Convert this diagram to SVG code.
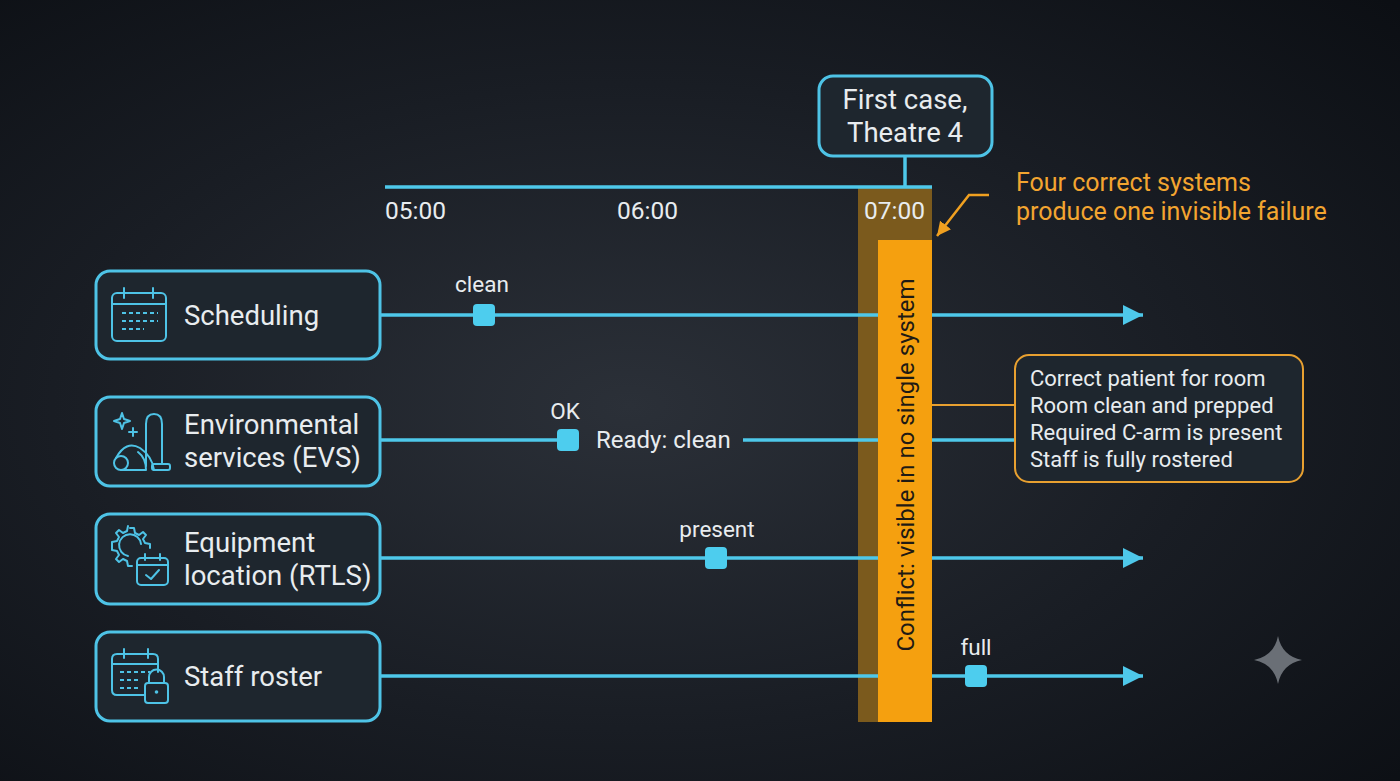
<svg xmlns="http://www.w3.org/2000/svg" width="1400" height="781" viewBox="0 0 1400 781">
<defs>
<radialGradient id="bg" cx="0.45" cy="0.52" r="0.75">
<stop offset="0" stop-color="#2b3038"/>
<stop offset="0.55" stop-color="#191d24"/>
<stop offset="1" stop-color="#0c0f14"/>
</radialGradient>
<marker id="arr" markerUnits="userSpaceOnUse" markerWidth="22" markerHeight="24" refX="20" refY="12" orient="auto">
<path d="M0,2 L20,12 L0,22 Z" fill="#4ec8ea"/>
</marker>
<marker id="oarr" markerUnits="userSpaceOnUse" markerWidth="16" markerHeight="16" refX="14" refY="8" orient="auto">
<path d="M0,1 L14,8 L0,15 Z" fill="#f0a020"/>
</marker>
<style>
.node{fill:#1e262e;stroke:#4ec3e6;stroke-width:3}
.lbl{font-family:Roboto,"Liberation Sans",sans-serif;fill:#e8ecef}
.nt{font-size:27.5px}
.tm{font-size:24.5px}
.ev{font-size:22.5px}
.cl{font-size:22px}
.ln{stroke:#4ec8ea;stroke-width:3.5;fill:none}
.mk{fill:#4dcdee}
.ic{fill:none;stroke:#4ec3e6;stroke-width:2;stroke-linecap:round;stroke-linejoin:round}
.icd{fill:none;stroke:#4ec3e6;stroke-width:2;stroke-dasharray:4 3}
.or{font-family:Roboto,"Liberation Sans",sans-serif;fill:#f3a530;font-size:25px}
</style>
</defs>
<rect width="1400" height="781" fill="url(#bg)"/>

<!-- conflict band -->
<g id="conflict-band">
<rect x="858" y="187" width="74" height="535" fill="#7b5a1d"/>
<rect x="878" y="240" width="54" height="482" fill="#f5a00f"/>
</g>

<g id="connectors">
<line x1="385" y1="187" x2="932" y2="187" class="ln"/>
<line x1="905" y1="156" x2="905" y2="187" class="ln"/>
<line x1="380" y1="315" x2="878" y2="315" class="ln"/>
<line x1="932" y1="315" x2="1143" y2="315" class="ln" marker-end="url(#arr)"/>
<line x1="380" y1="440" x2="575" y2="440" class="ln"/>
<line x1="743" y1="440" x2="878" y2="440" class="ln"/>
<line x1="932" y1="440" x2="1015" y2="440" class="ln"/>
<line x1="380" y1="558" x2="878" y2="558" class="ln"/>
<line x1="932" y1="558" x2="1143" y2="558" class="ln" marker-end="url(#arr)"/>
<line x1="380" y1="676" x2="878" y2="676" class="ln"/>
<line x1="932" y1="676" x2="1143" y2="676" class="ln" marker-end="url(#arr)"/>
<line x1="932" y1="405" x2="1015" y2="405" stroke="#e8a030" stroke-width="2"/>
<polyline points="989,195 969,195 937,236" fill="none" stroke="#f0a020" stroke-width="2.5" marker-end="url(#oarr)"/>
</g>

<text transform="translate(906,465) rotate(-90)" text-anchor="middle" dominant-baseline="central" font-family="Roboto,'Liberation Sans',sans-serif" font-size="24" fill="#1e1a14">Conflict: visible in no single system</text>

<g id="time-labels">
<text x="385" y="219" class="lbl tm">05:00</text>
<text x="617" y="219" class="lbl tm">06:00</text>
<text x="864" y="219" class="lbl tm">07:00</text>
</g>

<g id="events">
<rect x="473" y="304" width="22" height="22" rx="4" class="mk"/>
<text x="482" y="292" text-anchor="middle" class="lbl ev">clean</text>
<rect x="557" y="429" width="22" height="22" rx="4" class="mk"/>
<text x="565" y="419" text-anchor="middle" class="lbl ev">OK</text>
<text x="596" y="448" class="lbl" font-size="24">Ready: clean</text>
<rect x="705" y="547" width="22" height="22" rx="4" class="mk"/>
<text x="717" y="537" text-anchor="middle" class="lbl ev">present</text>
<rect x="965" y="665" width="22" height="22" rx="4" class="mk"/>
<text x="976" y="655" text-anchor="middle" class="lbl ev">full</text>
</g>

<g id="first-case">
<rect x="819" y="76" width="173" height="80" rx="14" class="node" stroke-width="2.5"/>
<text x="905" y="109" text-anchor="middle" class="lbl" font-size="27.5">First case,</text>
<text x="905" y="142" text-anchor="middle" class="lbl" font-size="27.5">Theatre 4</text>
</g>

<g id="annotation">
<text x="1016" y="191" class="or">Four correct systems</text>
<text x="1016" y="220" class="or">produce one invisible failure</text>
</g>

<g id="callout">
<rect x="1015" y="355" width="288" height="127" rx="14" fill="#1e262e" stroke="#e8a030" stroke-width="2"/>
<text x="1030" y="386" class="lbl cl">Correct patient for room</text>
<text x="1030" y="413" class="lbl cl">Room clean and prepped</text>
<text x="1030" y="440" class="lbl cl">Required C-arm is present</text>
<text x="1030" y="467" class="lbl cl">Staff is fully rostered</text>
</g>

<g id="node-scheduling">
<rect x="96" y="271" width="284" height="88" rx="14" class="node"/>
<rect x="112" y="293" width="54" height="48" rx="5" class="ic"/>
<line x1="112" y1="304" x2="166" y2="304" class="ic"/>
<line x1="124" y1="288" x2="124" y2="298" class="ic"/>
<line x1="153" y1="288" x2="153" y2="298" class="ic"/>
<line x1="122" y1="313" x2="158" y2="313" class="icd"/>
<line x1="122" y1="321" x2="158" y2="321" class="icd"/>
<line x1="122" y1="329" x2="144" y2="329" class="icd"/>
<text x="184" y="325" class="lbl nt">Scheduling</text>
</g>

<g id="node-evs">
<rect x="96" y="397" width="284" height="89" rx="14" class="node"/>
<path d="M122,413 L124,419 L130,421 L124,423 L122,429 L120,423 L114,421 L120,419 Z" class="ic" stroke-width="1.6"/>
<path d="M133,428 L133,436 M129,432 L137,432" class="ic" stroke-width="1.6"/>
<path d="M146,466 L146,424 Q146,414 154,414 Q162,414 162,424 L162,464" class="ic"/>
<path d="M116,458 Q126,440 140,448 Q152,456 154,470" class="ic"/>
<circle cx="121" cy="463" r="7" class="ic"/>
<path d="M121,470 L146,470 Q146,458 138,452" class="ic"/>
<rect x="152" y="464" width="18" height="6" rx="2" class="ic"/>
<text x="184" y="434" class="lbl nt">Environmental</text>
<text x="184" y="467" class="lbl nt">services (EVS)</text>
</g>

<g id="node-rtls">
<rect x="96" y="514" width="284" height="90" rx="14" class="node"/>
<path d="M130,528 l4,0 l1,5 l4,2 l4,-3 l3,3 l-3,4 l2,4 l5,1 l0,4 M112,546 l0,-4 l5,-1 l2,-4 l-3,-4 l3,-3 l4,3 l4,-2 l1,-5 M112,546 l0,4 l5,1 l2,4 l-3,4 l3,3 l4,-3 l4,2 l1,5 l4,0" class="ic" stroke-width="1.8"/>
<path d="M141,544 A11,11 0 1 0 128,556" class="ic" stroke-width="1.8"/>
<rect x="137" y="558" width="31" height="27" rx="4" class="ic"/>
<line x1="137" y1="565" x2="168" y2="565" class="ic"/>
<line x1="145" y1="554" x2="145" y2="560" class="ic"/>
<line x1="160" y1="554" x2="160" y2="560" class="ic"/>
<path d="M146,575 L151,579 L159,570" class="ic"/>
<text x="184" y="552" class="lbl nt">Equipment</text>
<text x="184" y="585" class="lbl nt">location (RTLS)</text>
</g>

<g id="node-staff">
<rect x="96" y="632" width="284" height="89" rx="14" class="node"/>
<path d="M145,695 L117,695 Q112,695 112,690 L112,659 Q112,654 117,654 L153,654 Q158,654 158,659 L158,672" class="ic"/>
<line x1="112" y1="664" x2="158" y2="664" class="ic"/>
<line x1="124" y1="649" x2="124" y2="658" class="ic"/>
<line x1="148" y1="649" x2="148" y2="658" class="ic"/>
<line x1="120" y1="672" x2="150" y2="672" class="icd"/>
<line x1="120" y1="680" x2="140" y2="680" class="icd"/>
<line x1="120" y1="688" x2="140" y2="688" class="icd"/>
<rect x="145" y="683" width="23" height="20" rx="3" class="ic"/>
<path d="M149,683 L149,677 A7.5,7.5 0 0 1 164,677 L164,683" class="ic"/>
<circle cx="156.5" cy="692" r="1.8" fill="#4ec3e6"/>
<text x="184" y="686" class="lbl nt">Staff roster</text>
</g>

<path d="M1278,636 Q1282,656 1302,660 Q1282,664 1278,684 Q1274,664 1254,660 Q1274,656 1278,636 Z" fill="#6a6f76"/>
</svg>
